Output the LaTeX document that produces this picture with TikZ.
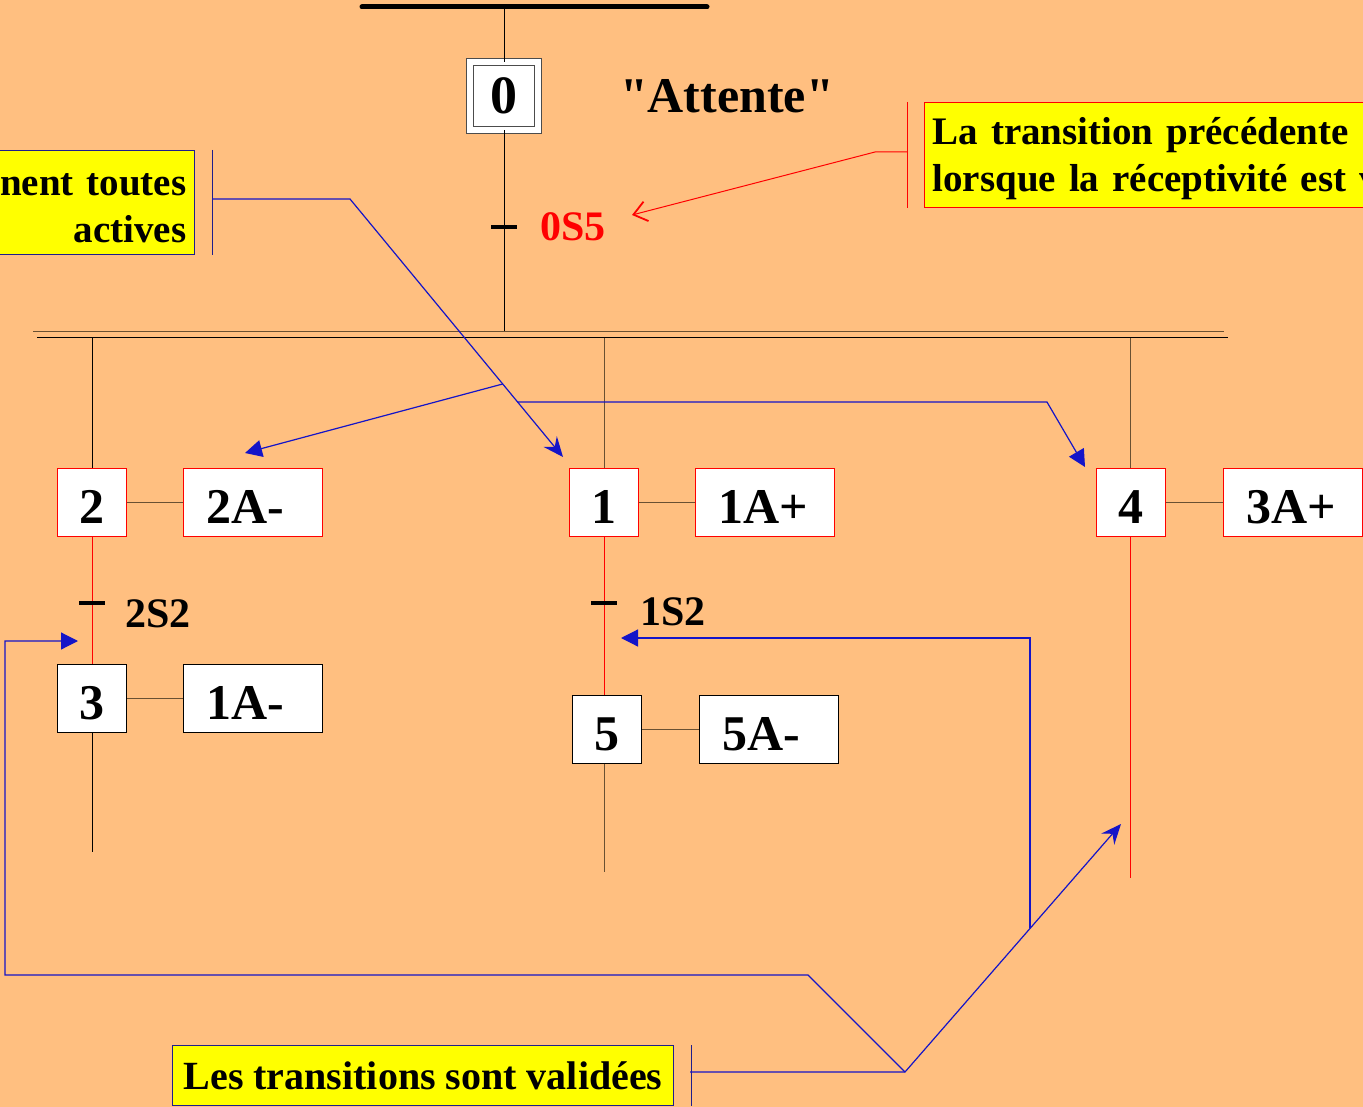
\documentclass[tikz,border=0pt]{standalone}
\usepackage{fontspec}
\setmainfont{Liberation Serif}
\newfontfamily\droitfont{Liberation Serif}[Ligatures=TeXOff]
\usetikzlibrary{arrows.meta}
\definecolor{fond}{RGB}{255,191,128}
\definecolor{jaune}{RGB}{255,255,0}
\definecolor{bleu}{RGB}{20,20,200}
\definecolor{marine}{RGB}{30,30,140}
\definecolor{brun}{RGB}{105,80,50}
\begin{document}
\begin{tikzpicture}[x=1pt, y=-1pt, line width=1pt,
  etape/.style={rectangle, draw=red, fill=white, minimum width=69, minimum height=68, inner sep=0pt, text height=43pt, text depth=0pt, font=\fontsize{50}{60}\selectfont\bfseries},
  action/.style={etape, minimum width=139, text width=93pt, inner xsep=23pt, align=left},
  recep/.style={anchor=base west, inner sep=0pt, font=\fontsize{42}{50}\selectfont\bfseries},
  trait/.style={rectangle, fill=black, minimum width=26, minimum height=4, inner sep=0pt},
  bulle/.style={rectangle, fill=jaune, line width=1.2pt, inner xsep=8pt, inner ysep=0pt, font=\fontsize{39}{47}\selectfont\bfseries},
  fleche/.style={bleu, line width=1.2pt, -{Triangle[length=17pt,width=17pt]}},
  pointe/.style={bleu, line width=1.2pt, -{Stealth[length=20pt,width=17pt,inset=7pt]}}]
\useasboundingbox (0,0) rectangle (1363,1107);
\fill[fond] (0,0) rectangle (1363,1107);
\clip (0,0) rectangle (1363,1107);
\draw[line width=5pt, line cap=round] (362,7) -- (707,7);
\coordinate (haut) at (504,7);
\node[rectangle, draw=gray!60!black, line width=0.8pt, double=white, double distance=6pt, fill=white, minimum size=68, inner sep=0pt, font=\fontsize{54}{60}\selectfont\bfseries] (e0) at (504,96) {0};
\node[anchor=base, inner sep=0pt, font=\fontsize{50}{60}\selectfont\bfseries\droitfont] (att) at (727,113) {"Attente"};
\coordinate (barre) at (504,332);
\draw (haut) -- (e0);
\draw (e0) -- (barre);
\node[trait] (t0) at (504,227) {};
\node[recep, text=red] (r0) at (540,241) {0S5};
\draw[brun] (33,332) -- (1224,332);
\draw (37,338) -- (1228,338);
\coordinate (b2) at (92,338);
\coordinate (b1) at (604,338);
\coordinate (b4) at (1130,338);
\node[etape] (e2) at (92,502) {2};
\node[action] (a2) at (252.5,502) {2A-};
\node[etape] (e1) at (604,502) {1};
\node[action] (a1) at (765,502) {1A+};
\node[etape] (e4) at (1131,502) {4};
\node[action] (a4) at (1292.5,502) {3A+};
\node[etape, draw=black] (e3) at (92,698) {3};
\node[action, draw=black] (a3) at (252.5,698) {1A-};
\node[etape, draw=black] (e5) at (607,729) {5};
\node[action, draw=black] (a5) at (768.5,729) {5A-};
\coordinate (f3) at (92,852);
\coordinate (f5) at (604,872);
\coordinate (f4) at (1130,878);
\draw (b2) -- (e2);
\draw[brun] (b1) -- (e1);
\draw[brun] (b4) -- (e4.north -| b4);
\draw[brun] (e2) -- (a2);
\draw[brun] (e1) -- (a1);
\draw[brun] (e4) -- (a4);
\draw[brun] (e3) -- (a3);
\draw[brun] (e5) -- (a5);
\draw[red] (e2) -- (e3);
\draw[red] (e1.south) -- (e1.south |- e5.north);
\draw[red] (e4.south -| f4) -- (f4);
\draw (e3) -- (f3);
\draw[brun] (e5.south -| f5) -- (f5);
\node[trait] (t2) at (92,603) {};
\node[trait] (t1) at (604,603) {};
\node[recep] (r2) at (125,627) {2S2};
\node[recep] (r1) at (640,625) {1S2};
\node[bulle, draw=red, anchor=north west, minimum height=105, text width=470, align=left] (cr) at (924,102) {\rule{0pt}{35pt}La transition précédente\\lorsque la réceptivité est v};
\node[bulle, draw=marine, anchor=north east, minimum height=104, text width=400, align=right] (cl) at (195,150) {\rule{0pt}{33pt}nent toutes\\actives};
\node[bulle, draw=marine, anchor=north west, minimum height=60, minimum width=501, inner xsep=0pt, font=\fontsize{40}{47}\selectfont\bfseries] (cb) at (172,1045) {Les transitions sont validées};
\draw[red] ([xshift=-17pt]cr.north west) -- ([xshift=-17pt]cr.south west);
\draw[marine] ([xshift=17pt]cl.north east) -- ([xshift=17pt]cl.south east);
\draw[marine] ([xshift=17pt]cb.north east) -- ([xshift=17pt]cb.south east);
\coordinate (cr1) at (907,152);
\coordinate (cl1) at (212,199);
\coordinate (cb1) at (690,1072);
\coordinate (k0) at (875,152);
\coordinate (p0) at (632,215);
\draw[red, -{Straight Barb[length=13pt,width=20pt,line width=1.8pt]}] (cr1) -- (k0) -- (p0);
\coordinate (k1) at (350,199);
\coordinate (p1) at (563,457);
\coordinate (p2) at (245,453);
\coordinate (k4) at (1047,402);
\coordinate (p4) at (1085,467);
\draw[pointe] (cl1) -- (k1) -- (p1);
\path (k1) -- (p1) coordinate[pos=0.717] (m2) coordinate[pos=0.787] (m4);
\draw[fleche] (m2) -- (p2);
\draw[fleche] (m4) -- (m4 -| k4) -- (p4);
\coordinate (v0) at (905,1072);
\coordinate (p6) at (1121,824);
\coordinate (k3) at (808,975);
\coordinate (k5) at (5,975);
\coordinate (k6) at (5,641);
\coordinate (p3) at (78,641);
\coordinate (p5) at (621,638);
\draw[pointe] (cb1) -- (v0) -- (p6);
\draw[fleche] (v0) -- (k3) -- (k5) -- (k6) -- (p3);
\path (v0) -- (p6) coordinate[pos=0.579] (m5);
\draw[fleche] (m5) -- (m5 |- p5) -- (p5);
\end{tikzpicture}
\end{document}
